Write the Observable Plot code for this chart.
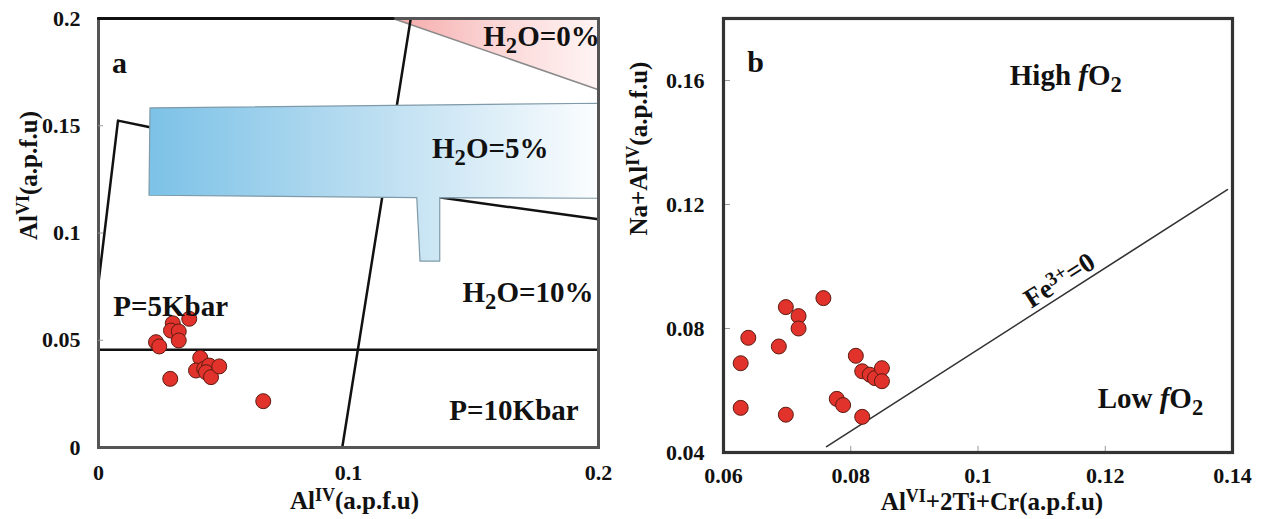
<!DOCTYPE html>
<html><head><meta charset="utf-8">
<script src="https://cdn.jsdelivr.net/npm/d3@7"></script>
<script src="https://cdn.jsdelivr.net/npm/@observablehq/plot@0.6"></script>
<style>
body{margin:0;background:#fff}
#wrap{display:flex;width:1262px;height:519px;overflow:hidden}
svg text{font-family:"Liberation Serif","DejaVu Serif",serif;font-weight:bold}
</style>
</head><body><div id="wrap"></div>
<script>
// ---------- Panel a data ----------
const aAlIV = [0.0230,0.0243,0.0297,0.0290,0.0321,0.0321,0.0363,0.0407,0.0390,0.0423,0.0443,0.0430,0.0450,0.0483,0.0287,0.0659];
const aAlVI = [0.0491,0.0471,0.0579,0.0545,0.0541,0.0499,0.0600,0.0418,0.0359,0.0367,0.0382,0.0351,0.0328,0.0378,0.0320,0.0216];
const aXTicks = [0, 0.1, 0.2];
const aXTickLabels = ["0", "0.1", "0.2"];
const aYTicks = [0, 0.05, 0.1, 0.15, 0.2];
const aYTickLabels = ["0", "0.05", "0.1", "0.15", "0.2"];
// field boundaries
const aLeftBoundX = [0, 0.0078, 0.0206, 0.1368, 0.2];
const aLeftBoundY = [0.0768, 0.1524, 0.1493, 0.1165, 0.1064];
const aSteepX = [0.0975, 0.1249];
const aSteepY = [0, 0.2];
const aHorizX = [0, 0.2];
const aHorizY = [0.0456, 0.0456];
const aTopEdgeX = [0, 0.1178];
const aTopEdgeY = [0.2, 0.2];
const aPinkX = [0.1178, 0.2, 0.2];
const aPinkY = [0.2, 0.2, 0.1668];
const aPinkEdgeX = [0.1178, 0.2];
const aPinkEdgeY = [0.2, 0.1668];
const aBlueX = [0.0206, 0.2, 0.2, 0.1365, 0.1365, 0.1286, 0.1273, 0.0202, 0.0206];
const aBlueY = [0.1583, 0.1605, 0.1162, 0.1165, 0.0869, 0.0869, 0.1165, 0.1176, 0.1583];
const aLabelText = ["H_{2}O=5%", "H_{2}O=10%", "P=10Kbar"];
const aLabelX = [0.1567, 0.1718, 0.1662];
const aLabelY = [0.1392, 0.0723, 0.0172];
const aEndLabelText = ["H_{2}O=0%"];
const aEndLabelX = [0.2005];
const aEndLabelY = [0.1915];
const aStartLabelText = ["P=5Kbar"];
const aStartLabelX = [0.0059];
const aStartLabelY = [0.0658];
const aXTitle = "Al^{IV}(a.p.f.u)";
const aYTitle = "Al^{VI}(a.p.f.u)";

// ---------- Panel b data ----------
const bX = [0.0757,0.0698,0.0718,0.0718,0.0639,0.0687,0.0627,0.0808,0.0818,0.0830,0.0838,0.0849,0.0849,0.0778,0.0788,0.0627,0.0698,0.0818];
const bY = [0.0898,0.0869,0.0840,0.0800,0.0770,0.0742,0.0688,0.0712,0.0662,0.0651,0.0640,0.0672,0.0630,0.0573,0.0553,0.0544,0.0522,0.0515];
const bXTicks = [0.06, 0.08, 0.1, 0.12, 0.14];
const bXTickLabels = ["0.06", "0.08", "0.1", "0.12", "0.14"];
const bYTicks = [0.04, 0.08, 0.12, 0.16];
const bYTickLabels = ["0.04", "0.08", "0.12", "0.16"];
const bFeLineX = [0.0762, 0.1392];
const bFeLineY = [0.0419, 0.1248];
const bLabelText = ["High *f*O_{2}", "Low *f*O_{2}"];
const bLabelX = [0.1138, 0.1271];
const bLabelY = [0.1616, 0.0574];
const bFeLabel = ["Fe^{3+}=0"];
const bFeLabelX = [0.1128];
const bFeLabelY = [0.0955];
const bXTitle = "Al^{VI}+2Ti+Cr(a.p.f.u)";
const bYTitle = "Na+Al^{IV}(a.p.f.u)";

// ---------- helpers ----------
const FONT = "Liberation Serif, DejaVu Serif, serif";
const idx = arr => d3.range(arr.length);
const pathLine = (X, Y, opts) => Plot.line(idx(X), {x: i => X[i], y: i => Y[i], ...opts});
const labelOf = (ticks, labels) => d => labels[ticks.indexOf(d)];
const T = {fontFamily: FONT, fontWeight: "bold"};

function richify(svg) {
  d3.select(svg).selectAll("text").each(function () {
    const targets = this.querySelector("tspan") ? Array.from(this.querySelectorAll("tspan")) : [this];
    for (const t of targets) {
      const s = t.textContent;
      if (!/\^\{|_\{|\*/.test(s)) continue;
      t.textContent = "";
      const re = /\^\{([^}]*)\}|_\{([^}]*)\}|\*([^*]*)\*|([^^_*]+)/g;
      let m;
      while ((m = re.exec(s))) {
        if (m[1] !== undefined) {
          d3.select(t).append("tspan").attr("baseline-shift", "42%").attr("font-size", "72%").text(m[1]);
        } else if (m[2] !== undefined) {
          d3.select(t).append("tspan").attr("baseline-shift", "-32%").attr("font-size", "78%").text(m[2]);
        } else if (m[3] !== undefined) {
          d3.select(t).append("tspan").attr("font-style", "italic").text(m[3]);
        } else {
          t.appendChild(document.createTextNode(m[4]));
        }
      }
    }
  });
  d3.select(svg).attr("font-family", FONT);
}

function addGradients(svg) {
  const defs = d3.select(svg).insert("defs", ":first-child");
  const blue = defs.append("linearGradient").attr("id", "blueGrad").attr("x1", 0).attr("x2", 1).attr("y1", 0).attr("y2", 0);
  blue.append("stop").attr("offset", "0%").attr("stop-color", "#7cc2e7");
  blue.append("stop").attr("offset", "45%").attr("stop-color", "#b5dbf0");
  blue.append("stop").attr("offset", "100%").attr("stop-color", "#fbfdfe");
  const pink = defs.append("linearGradient").attr("id", "pinkGrad").attr("x1", 0).attr("x2", 1).attr("y1", 0).attr("y2", 0);
  pink.append("stop").attr("offset", "0%").attr("stop-color", "#f5a8a8");
  pink.append("stop").attr("offset", "50%").attr("stop-color", "#fbd6d6");
  pink.append("stop").attr("offset", "100%").attr("stop-color", "#fff4f4");
}

const baseStyle = {fontFamily: FONT, fontSize: "22px", fontWeight: "bold", color: "#111", background: "white", overflow: "visible"};
const dotStyle = {r: 7.5, fill: "#e1322b", stroke: "#5b1c12", strokeWidth: 1};

// ---------- Panel a ----------
const plotA = Plot.plot({
  width: 615, height: 519,
  marginLeft: 98, marginRight: 17, marginTop: 18, marginBottom: 72,
  x: {domain: [0, 0.2]},
  y: {domain: [0, 0.2]},
  style: baseStyle,
  marks: [
    pathLine(aPinkX, aPinkY, {fill: "url(#pinkGrad)", stroke: "none"}),
    pathLine(aPinkEdgeX, aPinkEdgeY, {stroke: "#8a8a8a", strokeWidth: 1.5}),
    pathLine(aLeftBoundX, aLeftBoundY, {stroke: "#111", strokeWidth: 2.5}),
    pathLine(aSteepX, aSteepY, {stroke: "#111", strokeWidth: 2.5}),
    pathLine(aHorizX, aHorizY, {stroke: "#111", strokeWidth: 2.5}),
    pathLine(aBlueX, aBlueY, {fill: "url(#blueGrad)", stroke: "#7f9aa8", strokeWidth: 1.2}),
    Plot.frame({stroke: "#555", strokeWidth: 3}),
    pathLine(aTopEdgeX, aTopEdgeY, {stroke: "#111", strokeWidth: 3}),
    Plot.ruleY(aYTicks.slice(1, -1), {y: d => d, x1: 0, x2: 0.002, stroke: "#999", strokeWidth: 1}),
    Plot.axisX(aXTicks, {tickFormat: labelOf(aXTicks, aXTickLabels), tickSize: 0, tickPadding: 17, fontSize: 22, label: null, ...T}),
    Plot.axisY(aYTicks, {tickFormat: labelOf(aYTicks, aYTickLabels), tickSize: 0, tickPadding: 18, fontSize: 22, label: null, ...T}),
    Plot.dot(idx(aAlIV), {x: i => aAlIV[i], y: i => aAlVI[i], ...dotStyle}),
    Plot.text(idx(aLabelText), {x: i => aLabelX[i], y: i => aLabelY[i], text: i => aLabelText[i], fontSize: 29, textAnchor: "middle", ...T}),
    Plot.text(idx(aEndLabelText), {x: i => aEndLabelX[i], y: i => aEndLabelY[i], text: i => aEndLabelText[i], fontSize: 29, textAnchor: "end", ...T}),
    Plot.text(idx(aStartLabelText), {x: i => aStartLabelX[i], y: i => aStartLabelY[i], text: i => aStartLabelText[i], fontSize: 29, textAnchor: "start", ...T}),
    Plot.text(["a"], {frameAnchor: "top-left", dx: 21, dy: 33, text: d => d, fontSize: 30, textAnchor: "middle", ...T}),
    Plot.text([aXTitle], {frameAnchor: "bottom", dx: 6, dy: 61, text: d => d, fontSize: 25, ...T}),
    Plot.text([aYTitle], {frameAnchor: "left", dx: -70, dy: 7, text: d => d, fontSize: 25, rotate: -90, ...T})
  ]
});
addGradients(plotA);
richify(plotA);

// ---------- Panel b ----------
const plotB = Plot.plot({
  width: 647, height: 519,
  marginLeft: 108, marginRight: 30, marginTop: 18, marginBottom: 67,
  x: {domain: [0.06, 0.14]},
  y: {domain: [0.04, 0.18]},
  style: baseStyle,
  marks: [
    Plot.ruleX(bXTicks.slice(1, -1), {x: d => d, y1: 0.04, y2: 0.042, stroke: "#999", strokeWidth: 1}),
    Plot.ruleY(bYTicks.slice(1), {y: d => d, x1: 0.06, x2: 0.0611, stroke: "#999", strokeWidth: 1}),
    pathLine(bFeLineX, bFeLineY, {stroke: "#333", strokeWidth: 1.6}),
    Plot.frame({stroke: "#333", strokeWidth: 3.2}),
    Plot.axisX(bXTicks, {tickFormat: labelOf(bXTicks, bXTickLabels), tickSize: 0, tickPadding: 15, fontSize: 22, label: null, ...T}),
    Plot.axisY(bYTicks, {tickFormat: labelOf(bYTicks, bYTickLabels), tickSize: 0, tickPadding: 19, fontSize: 22, label: null, ...T}),
    Plot.dot(idx(bX), {x: i => bX[i], y: i => bY[i], ...dotStyle}),
    Plot.text(idx(bLabelText), {x: i => bLabelX[i], y: i => bLabelY[i], text: i => bLabelText[i], fontSize: 29, textAnchor: "middle", ...T}),
    Plot.text(idx(bFeLabel), {x: i => bFeLabelX[i], y: i => bFeLabelY[i], text: i => bFeLabel[i], fontSize: 27, textAnchor: "middle", rotate: -32.7, ...T}),
    Plot.text(["b"], {frameAnchor: "top-left", dx: 32, dy: 32, text: d => d, fontSize: 30, textAnchor: "middle", ...T}),
    Plot.text([bXTitle], {frameAnchor: "bottom", dx: 14, dy: 57, text: d => d, fontSize: 25, ...T}),
    Plot.text([bYTitle], {frameAnchor: "left", dx: -85, dy: 0, text: d => d, fontSize: 25, rotate: -90, ...T})
  ]
});
richify(plotB);

document.getElementById("wrap").append(plotA, plotB);
</script>
</body></html>
